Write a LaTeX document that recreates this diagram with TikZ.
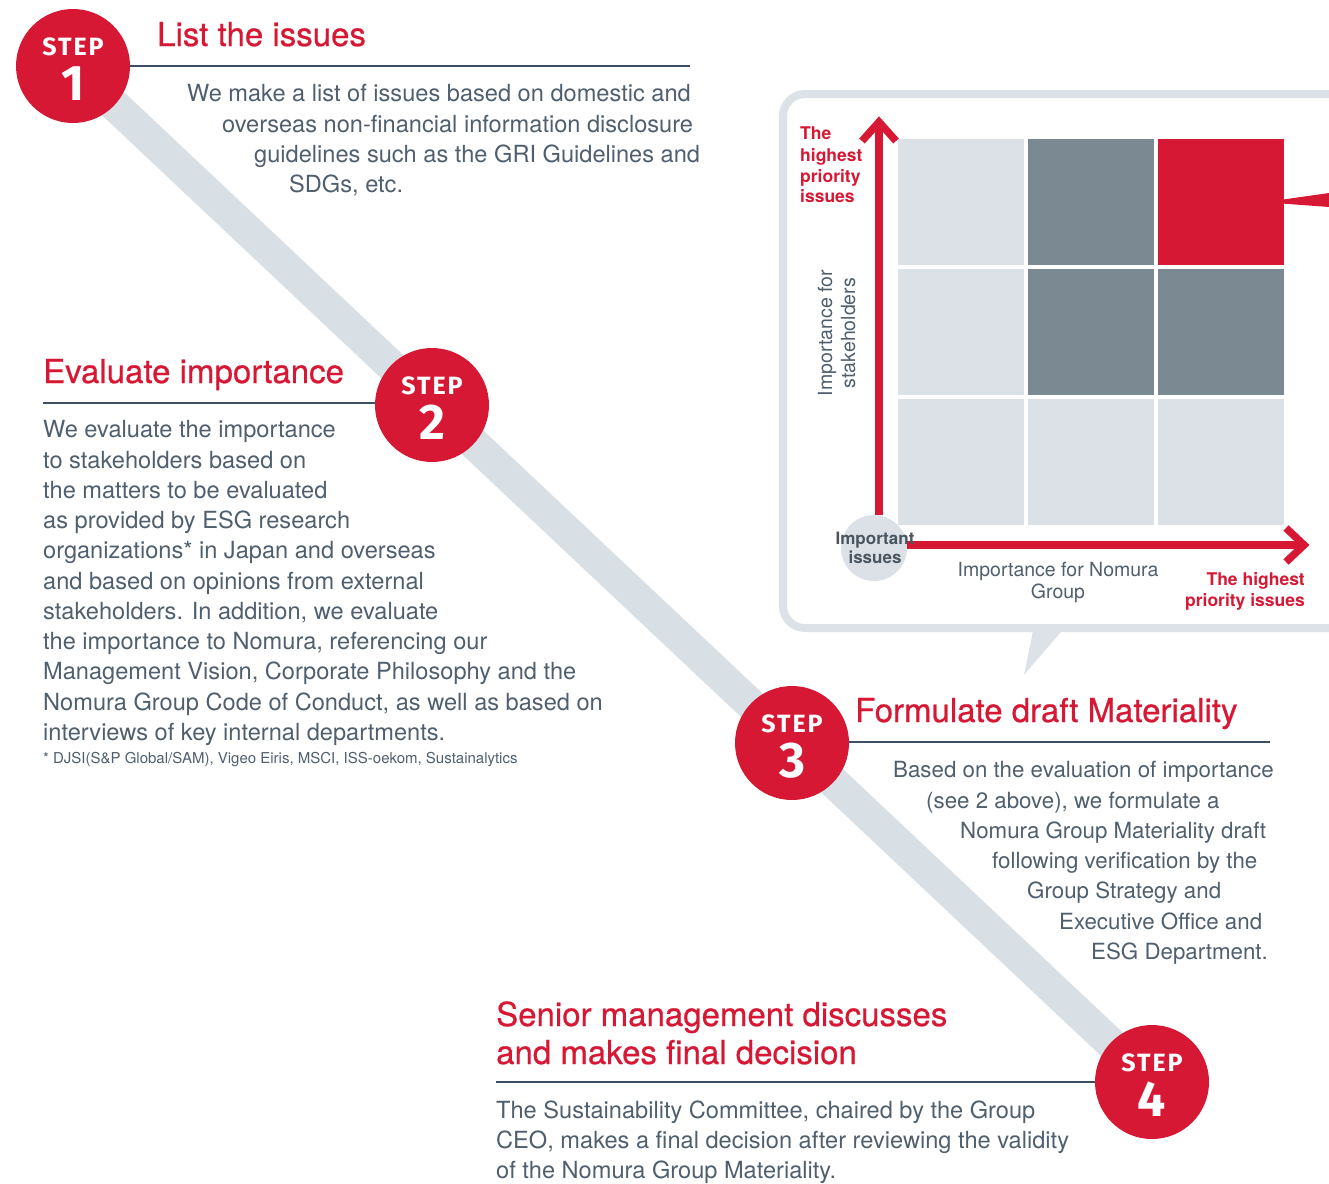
\documentclass[tikz,border=0pt]{standalone}
\usepackage{fontspec}
\setmainfont{TeX Gyre Heros}
\newfontfamily\stepfont[LetterSpace=8]{Fira Sans}
\newfontfamily\headfont[FakeBold=0.6]{TeX Gyre Heros}
\usetikzlibrary{calc}
\definecolor{nred}{HTML}{D71834}
\definecolor{bandgray}{HTML}{D9E0E5}
\definecolor{bodygray}{HTML}{4F5F6E}
\definecolor{rulecol}{HTML}{3D5063}
\definecolor{celllight}{HTML}{DBE1E7}
\definecolor{celldark}{HTML}{7B8A92}
\definecolor{framegray}{HTML}{DCE2E7}
\definecolor{darklabel}{HTML}{4A5560}

\begin{document}
\begin{tikzpicture}[x=1pt,y=-1pt,
  stepdot/.style={circle,fill=nred,minimum size=114pt,inner sep=0pt},
  steptag/.style={text=white,font=\stepfont\bfseries\fontsize{25}{25}\selectfont,anchor=base,inner sep=0pt},
  stepnum/.style={text=white,font=\stepfont\bfseries\fontsize{50}{50}\selectfont,anchor=base,inner sep=0pt},
  title/.style={text=nred,font=\headfont\fontsize{33}{38}\selectfont,anchor=base west,inner sep=0pt},
  bodyline/.style={text=bodygray,font=\fontsize{23.6}{30}\selectfont,anchor=base west,inner sep=0pt},
  bodysmall/.style={bodyline,font=\fontsize{22.3}{30}\selectfont},
  titlerule/.style={draw=rulecol,line width=1.2pt},
  redlabel/.style={text=nred,font=\bfseries\fontsize{17.5}{21}\selectfont,inner sep=0pt},
  axislabel/.style={text=bodygray,font=\fontsize{19.5}{22}\selectfont,inner sep=0pt},
  axisline/.style={draw=nred,line width=7.5pt},
  cell/.style={minimum size=126pt,inner sep=0pt,anchor=north west},
]
\path[use as bounding box,clip] (0,0) rectangle (1329,1183);

% step positions along the diagonal
\coordinate (c1) at (73,66);
\coordinate (c2) at (432,405);
\coordinate (c3) at (792,743);
\coordinate (c4) at (1152,1082);

% the diagonal band joining the steps
\draw[bandgray,line width=32pt] (c1) -- (c4);

% ---------- speech bubble with the matrix ----------
\draw[framegray,line width=8pt,rounded corners=22pt,fill=white] (783,94) rectangle (1380,628);
\fill[framegray] (1034,626) -- (1066,626) -- (1024,675) -- cycle;

% 3x3 matrix
\node[cell,fill=celllight] (m11) at (898,139) {};
\node[cell,fill=celldark]  (m12) at (1028,139) {};
\node[cell,fill=nred]      (m13) at (1158,139) {};
\node[cell,fill=celllight] (m21) at (898,269) {};
\node[cell,fill=celldark]  (m22) at (1028,269) {};
\node[cell,fill=celldark]  (m23) at (1158,269) {};
\node[cell,fill=celllight] (m31) at (898,399) {};
\node[cell,fill=celllight] (m32) at (1028,399) {};
\node[cell,fill=celllight] (m33) at (1158,399) {};

% pointer leaving the top priority cell
\fill[nred] ($(m13.east)+(-20,0)$) -- (1329,193) -- (1329,207) -- cycle;

% origin marker
\node[circle,fill=celllight,minimum size=66pt,inner sep=0pt] (origin) at (874,548) {};

% axes
\coordinate (ytop) at (879,123);
\coordinate (xend) at (1303,545);
\draw[axisline] (origin.north -| ytop) -- (ytop);
\draw[axisline,line join=miter] (862,141) -- (879,122) -- (896,141);
\draw[axisline] (origin.east |- xend) -- (xend);
\draw[axisline,line join=miter] (1286,528) -- (1304,545) -- (1286,562);

% axis texts
\foreach \yy/\t [count=\i] in {139/The,161/highest,182/priority,202/issues}
  \node[redlabel,anchor=base west] (yl-\i) at (800,\yy) {\t};
\node[axislabel,rotate=90,anchor=base] (ys1) at (832,333) {Importance for};
\node[axislabel,rotate=90,anchor=base] (ys2) at (855,333) {stakeholders};
\node[text=darklabel,font=\bfseries\fontsize{17}{20}\selectfont,inner sep=0pt,anchor=base] (o1) at (875,544) {Important};
\node[text=darklabel,font=\bfseries\fontsize{17}{20}\selectfont,inner sep=0pt,anchor=base] (o2) at (875,563) {issues};
\node[axislabel,anchor=base] (xs1) at (1058,576) {Importance for Nomura};
\node[axislabel,anchor=base] (xs2) at (1058,598) {Group};
\node[redlabel,anchor=base east] (xl1) at (1305,585) {The highest};
\node[redlabel,anchor=base east] (xl2) at (1305,606) {priority issues};

% ---------- step badges ----------
\foreach \k in {1,2,3,4}{
  \node[stepdot] (s\k) at (c\k) {};
  \node[steptag] (st\k) at ($(c\k)+(0,-11)$) {STEP};
  \node[stepnum] (sn\k) at ($(c\k)+(0,34)$) {\k};
}

% ---------- step 1 ----------
\node[title] (t1) at (157,46) {List the issues};
\draw[titlerule] (s1.east |- 0,66) -- (690,66);
\foreach \xx/\yy/\t [count=\i] in {
  187/101/{We make a list of issues based on domestic and},
  222/132/{overseas non-financial information disclosure},
  254/162/{guidelines such as the GRI Guidelines and},
  289/192/{SDGs, etc.}}
  \node[bodyline] (b1-\i) at (\xx,\yy) {\t};

% ---------- step 2 ----------
\node[title] (t2) at (43,383) {Evaluate importance};
\draw[titlerule] (43,403) -- (s2.west |- 0,403);
\foreach \yy/\t [count=\i] in {
  437/{We evaluate the importance},
  468/{to stakeholders based on},
  498/{the matters to be evaluated},
  528/{as provided by ESG research},
  558/{organizations* in Japan and overseas},
  589/{and based on opinions from external},
  619/{stakeholders. In addition, we evaluate},
  649/{the importance to Nomura, referencing our},
  679/{Management Vision, Corporate Philosophy and the},
  710/{Nomura Group Code of Conduct, as well as based on},
  740/{interviews of key internal departments.}}
  \node[bodyline] (b2-\i) at (43,\yy) {\t};
\node[text=bodygray,font=\fontsize{15}{17}\selectfont,anchor=base west,inner sep=0pt] (fn)
  at (43,763) {* DJSI(S\&P Global/SAM), Vigeo Eiris, MSCI, ISS-oekom, Sustainalytics};

% ---------- step 3 ----------
\node[title] (t3) at (855,722) {Formulate draft Materiality};
\draw[titlerule] (s3.east |- 0,742) -- (1270,742);
\foreach \xx/\yy/\t [count=\i] in {
  893/777/{Based on the evaluation of importance},
  926/808/{(see 2 above), we formulate a},
  960/838/{Nomura Group Materiality draft},
  992/868/{following verification by the},
  1027/898/{Group Strategy and},
  1059/929/{Executive Office and},
  1091/959/{ESG Department.}}
  \node[bodysmall] (b3-\i) at (\xx,\yy) {\t};

% ---------- step 4 ----------
\node[title] (t4a) at (496,1026) {Senior management discusses};
\node[title] (t4b) at (496,1064) {and makes final decision};
\draw[titlerule] (496,1082) -- (s4.west |- 0,1082);
\foreach \yy/\t [count=\i] in {
  1118/{The Sustainability Committee, chaired by the Group},
  1148/{CEO, makes a final decision after reviewing the validity},
  1178/{of the Nomura Group Materiality.}}
  \node[bodyline] (b4-\i) at (496,\yy) {\t};
\end{tikzpicture}
\end{document}
